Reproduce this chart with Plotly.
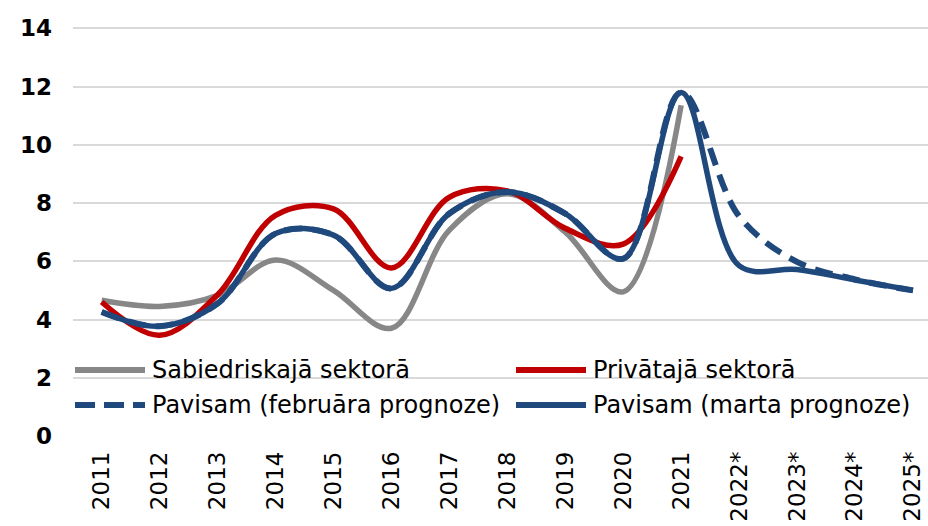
import plotly.graph_objects as go

years = ["2011", "2012", "2013", "2014", "2015", "2016", "2017", "2018",
         "2019", "2020", "2021", "2022*", "2023*", "2024*", "2025*"]
public_sector = [4.66, 4.45, 4.83, 6.04, 5.0, 3.7, 7.07, 8.32, 7.0, 4.95, 11.36]
private_sector = [4.6, 3.46, 4.85, 7.58, 7.8, 5.77, 8.2, 8.42, 7.13, 6.59, 9.6]
total_feb = [4.26, 3.77, 4.55, 6.95, 6.9, 5.07, 7.64, 8.38, 7.64, 6.09, 11.8, 7.55, 5.98, 5.38, 5.0]
total_mar = [4.26, 3.77, 4.55, 6.95, 6.9, 5.07, 7.64, 8.38, 7.64, 6.09, 11.8, 5.85, 5.72, 5.36, 5.0]

names = ["Sabiedriskajā sektorā", "Privātajā sektorā",
         "Pavisam (februāra prognoze)", "Pavisam (marta prognoze)"]
GRAY = "#878787"
RED = "#C00000"
BLUE = "#1F497D"
FONT = "DejaVu Sans, Verdana, sans-serif"

x_idx = list(range(len(years)))
fig = go.Figure()
fig.add_trace(go.Scatter(x=x_idx[:len(public_sector)], y=public_sector, mode="lines",
                         line=dict(color=GRAY, width=5.5, shape="spline", smoothing=1.0),
                         name=names[0], showlegend=False))
fig.add_trace(go.Scatter(x=x_idx[:len(private_sector)], y=private_sector, mode="lines",
                         line=dict(color=RED, width=5.5, shape="spline", smoothing=1.0),
                         name=names[1], showlegend=False))
fig.add_trace(go.Scatter(x=x_idx, y=total_feb, mode="lines",
                         line=dict(color=BLUE, width=6, shape="spline", smoothing=1.0,
                                   dash="18px,10px"),
                         name=names[2], showlegend=False))
fig.add_trace(go.Scatter(x=x_idx, y=total_mar, mode="lines",
                         line=dict(color=BLUE, width=5.5, shape="spline", smoothing=1.0),
                         name=names[3], showlegend=False))

# Manual legend (two columns inside the plot, transparent)
L, PW = 73, 855
T, PH = 26, 410
def px(xp):
    return (xp - L) / PW
def py(yp):
    return (T + PH - yp) / PH

legend_items = [
    (names[0], GRAY, "solid", 75, 370),
    (names[1], RED, "solid", 516, 370),
    (names[2], BLUE, "dash", 75, 405),
    (names[3], BLUE, "solid", 516, 405),
]
for text, color, dash, x0, y0 in legend_items:
    fig.add_shape(type="line", xref="paper", yref="paper",
                  x0=px(x0), x1=px(x0 + 70), y0=py(y0), y1=py(y0),
                  line=dict(color=color, width=6,
                            dash="20px,9px" if dash == "dash" else "solid"))
    fig.add_annotation(xref="paper", yref="paper", x=px(x0 + 75), y=py(y0),
                       text=text, showarrow=False, xanchor="left", yanchor="middle",
                       font=dict(family=FONT, size=24, color="#000000"))

fig.update_layout(
    width=928, height=526,
    margin=dict(l=L, r=0, t=T, b=526 - T - PH, autoexpand=False),
    paper_bgcolor="white", plot_bgcolor="white",
    font=dict(family=FONT, color="#000000"),
    showlegend=False,
    xaxis=dict(range=[-0.495, 14.26], tickmode="array", tickvals=x_idx, ticktext=years,
               tickangle=-90, showgrid=False, zeroline=False, showline=False, automargin=False,
               ticks="", tickfont=dict(family=FONT, size=23, color="#000000"), ticklabelstandoff=10),
    yaxis=dict(range=[0, 14.08], tickmode="array", tickvals=[0, 2, 4, 6, 8, 10, 12, 14],
               showgrid=True, gridcolor="#D9D9D9", gridwidth=2,
               zeroline=False, showline=False, ticks="", automargin=False,
               tickfont=dict(family=FONT, size=23, color="#000000", weight="bold"),
               ticklabelstandoff=20),
)

fig.write_html("out.html", config={"displayModeBar": False},
               post_script="document.body.style.margin='0px';document.body.style.overflow='hidden';")
